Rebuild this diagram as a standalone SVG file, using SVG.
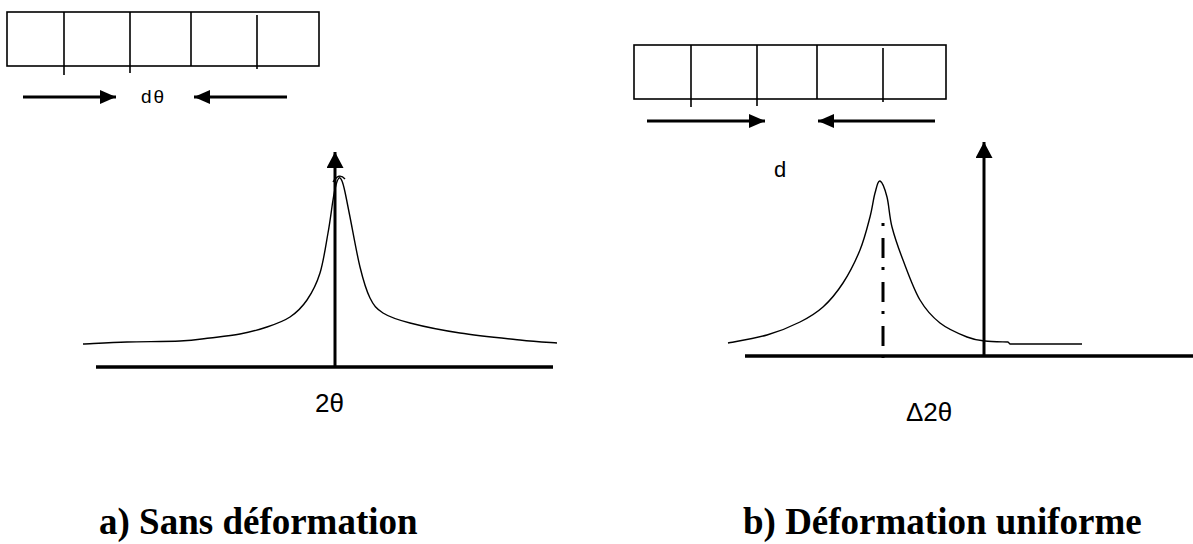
<svg xmlns="http://www.w3.org/2000/svg" width="1193" height="544" viewBox="0 0 1193 544">
<style>
.box{fill:none;stroke:#000;stroke-width:1.6}
.div{stroke:#000;stroke-width:1.6}
.arr{stroke:#000;stroke-width:3;fill:none}
.axis{stroke:#000;stroke-width:3.5}
.curve{fill:none;stroke:#000;stroke-width:1.4;stroke-linejoin:round}
.sym{font-family:"Liberation Sans","DejaVu Sans",sans-serif;fill:#000}
.cap{font-family:"Liberation Serif","Times New Roman",serif;font-weight:bold;font-size:37px;fill:#000}
</style>
<defs>
<marker id="ah" markerUnits="userSpaceOnUse" markerWidth="16" markerHeight="14" refX="16" refY="7" orient="auto">
<path d="M0,0 L16,7 L0,14 z" fill="#000"/>
</marker>
<marker id="av" markerUnits="userSpaceOnUse" markerWidth="16" markerHeight="17" refX="16" refY="8.5" orient="auto">
<path d="M0,0 L16,8.5 L0,17 z" fill="#000"/>
</marker>
</defs>
<rect width="1193" height="544" fill="#fff"/>

<g id="lattice-a">
<rect class="box" x="7" y="12" width="312" height="54"/>
<line class="div" x1="64" y1="12" x2="64" y2="75"/>
<line class="div" x1="130" y1="12" x2="130" y2="73"/>
<line class="div" x1="191" y1="12" x2="191" y2="66"/>
<line class="div" x1="257" y1="15" x2="257" y2="69"/>
</g>

<g id="lattice-b">
<rect class="box" x="634" y="45" width="312" height="54"/>
<line class="div" x1="691" y1="45" x2="691" y2="107"/>
<line class="div" x1="757" y1="45" x2="757" y2="106"/>
<line class="div" x1="817" y1="45" x2="817" y2="99"/>
<line class="div" x1="883" y1="48" x2="883" y2="102"/>
</g>

<g id="connectors">
<line class="arr" x1="23" y1="97" x2="116" y2="97" marker-end="url(#ah)"/>
<line class="arr" x1="287" y1="97" x2="194" y2="97" marker-end="url(#ah)"/>
<line class="arr" x1="647" y1="121" x2="765" y2="121" marker-end="url(#ah)"/>
<line class="arr" x1="935" y1="121" x2="818" y2="121" marker-end="url(#ah)"/>
<line class="arr" x1="335" y1="367" x2="335" y2="152" marker-end="url(#av)"/>
<line class="arr" x1="984" y1="356" x2="984" y2="142" marker-end="url(#av)"/>
</g>

<g id="graph-a">
<line class="axis" x1="96" y1="367" x2="553" y2="367"/>
<path class="curve" d="M83,344 C90.3,343.7 110.8,342.5 127,342 C143.2,341.5 166.2,341.7 180,341 C193.8,340.3 200,339.2 210,338 C220,336.8 230.5,335.8 240,334 C249.5,332.2 258.7,329.8 267,327 C275.3,324.2 283.3,321.5 290,317 C296.7,312.5 302,307.3 307,300 C312,292.7 316.5,284.2 320,273 C323.5,261.8 325.8,245.2 328,233 C330.2,220.8 331.7,208 333,200 C334.3,192 335,188.7 336,185 C337,181.3 338,178.7 339,178 C340,177.3 341,178.7 342,181 C343,183.3 343.7,186 345,192 C346.3,198 347.5,204.5 350,217 C352.5,229.5 356.7,253.5 360,267 C363.3,280.5 366.2,290.3 370,298 C373.8,305.7 376.3,308.8 383,313 C389.7,317.2 397.2,319.7 410,323 C422.8,326.3 441.7,330.2 460,333 C478.3,335.8 503.8,338.3 520,340 C536.2,341.7 550.8,342.5 557,343"/>
<path class="curve" d="M333,182 Q339,172 345,179"/>
<text class="sym" x="315" y="412" font-size="26">2θ</text>
</g>

<g id="graph-b">
<line class="axis" x1="745" y1="356" x2="1193" y2="356"/>
<path class="curve" d="M728,343 C734.5,341.7 755,338.5 767,335 C779,331.5 790.7,326.7 800,322 C809.3,317.3 815.8,313.5 823,307 C830.2,300.5 836.8,292.5 843,283 C849.2,273.5 855.5,261 860,250 C864.5,239 867.5,226.5 870,217 C872.5,207.5 873.3,199 875,193 C876.7,187 878,180.3 880,181 C882,181.7 885,189.3 887,197 C889,204.7 889.3,216.5 892,227 C894.7,237.5 898.3,247.8 903,260 C907.7,272.2 913.8,289.5 920,300 C926.2,310.5 932.2,316.8 940,323 C947.8,329.2 959.5,334 967,337 C974.5,340 978.3,340.2 985,341 C991.7,341.8 1003.3,341.8 1008,342 L1010,344 L1082,344"/>
<line x1="883" y1="223" x2="883" y2="360" stroke="#000" stroke-width="3" stroke-dasharray="3 12 20 9"/>
<text class="sym" x="906" y="421" font-size="26">Δ2θ</text>
</g>

<g id="labels">
<text class="sym" x="141" y="103" font-size="19" letter-spacing="2">dθ</text>
<text class="sym" x="774" y="177" font-size="22">d</text>
<text class="cap" x="99" y="534">a) Sans déformation</text>
<text class="cap" x="743" y="534">b) Déformation uniforme</text>
</g>
</svg>
